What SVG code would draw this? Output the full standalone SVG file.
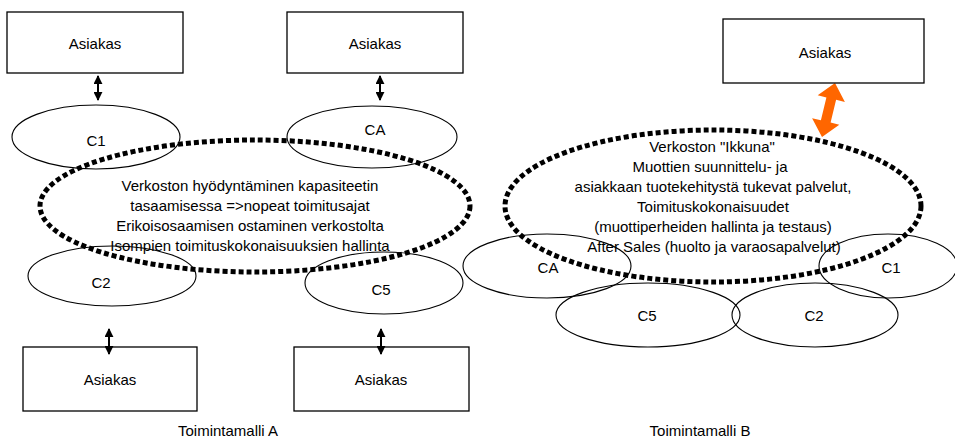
<svg xmlns="http://www.w3.org/2000/svg" width="955" height="442" viewBox="0 0 955 442">
  <style>
    text { font-family: "Liberation Sans", Arial, sans-serif; font-size: 15px; fill: #000; text-anchor: middle; }
    .box { fill: #fff; stroke: #000; stroke-width: 1.3; }
    .unit { fill: none; stroke: #000; stroke-width: 1.1; }
    .net { fill: none; stroke: #000; stroke-width: 5; stroke-dasharray: 5 3; }
    .link { stroke: #000; stroke-width: 2; marker-start: url(#tip); marker-end: url(#tip); }
  </style>
  <defs>
    <marker id="tip" viewBox="0 0 10 10" refX="9" refY="5" markerWidth="4.5" markerHeight="4.5" orient="auto-start-reverse">
      <path d="M0,0 L10,5 L0,10 z" fill="#000"/>
    </marker>
  </defs>

  <!-- Toimintamalli A -->
  <g id="a-asiakas-1"><rect class="box" x="7" y="12" width="176" height="61"/><text x="95" y="49">Asiakas</text></g>
  <g id="a-asiakas-2"><rect class="box" x="287" y="12" width="176" height="61"/><text x="375" y="49">Asiakas</text></g>
  <g id="a-asiakas-3"><rect class="box" x="23" y="347" width="174" height="64"/><text x="110" y="385">Asiakas</text></g>
  <g id="a-asiakas-4"><rect class="box" x="294" y="347" width="175" height="64"/><text x="381" y="385">Asiakas</text></g>

  <g id="a-c1"><ellipse class="unit" cx="96" cy="137" rx="84" ry="32"/><text x="96" y="146">C1</text></g>
  <g id="a-ca"><ellipse class="unit" cx="372" cy="137" rx="85" ry="31"/><text x="375" y="135">CA</text></g>
  <g id="a-c2"><ellipse class="unit" cx="112" cy="276" rx="84" ry="30"/><text x="101" y="288">C2</text></g>
  <g id="a-c5"><ellipse class="unit" cx="384" cy="283" rx="79" ry="31"/><text x="381" y="295">C5</text></g>

  <g id="a-verkosto">
    <ellipse class="net" cx="255" cy="206" rx="215" ry="66"/>
    <text x="250" y="191">Verkoston hyödyntäminen kapasiteetin</text>
    <text x="250" y="211">tasaamisessa =&gt;nopeat toimitusajat</text>
    <text x="250" y="231">Erikoisosaamisen ostaminen verkostolta</text>
    <text x="250" y="251">Isompien toimituskokonaisuuksien hallinta</text>
  </g>

  <g id="connectors">
    <line class="link" x1="98" y1="76" x2="98" y2="100"/>
    <line class="link" x1="380" y1="76" x2="380" y2="100"/>
    <line class="link" x1="109" y1="329" x2="109" y2="354"/>
    <line class="link" x1="381" y1="329" x2="381" y2="354"/>
    <polygon fill="#ff6600" points="835,83 844.9,101.9 836.1,99.7 830.6,122.6 839.3,124.8 822,137 812.1,118.2 820.9,120.3 826.4,97.4 817.7,95.3"/>
  </g>

  <!-- Toimintamalli B -->
  <g id="b-asiakas"><rect class="box" x="723" y="19" width="201" height="64"/><text x="825" y="58">Asiakas</text></g>

  <g id="b-ca"><ellipse class="unit" cx="547" cy="266" rx="84" ry="32"/><text x="548" y="273">CA</text></g>
  <g id="b-c1"><ellipse class="unit" cx="888" cy="266" rx="69" ry="32"/><text x="891" y="273">C1</text></g>
  <g id="b-c5"><ellipse class="unit" cx="648" cy="315" rx="92" ry="32"/><text x="647" y="321">C5</text></g>
  <g id="b-c2"><ellipse class="unit" cx="815" cy="315" rx="83" ry="32"/><text x="814" y="321">C2</text></g>

  <g id="b-ikkuna">
    <ellipse class="net" cx="713" cy="206" rx="208" ry="76"/>
    <text x="712" y="152">Verkoston "Ikkuna"</text>
    <text x="710" y="172">Muottien suunnittelu- ja</text>
    <text x="713" y="192">asiakkaan tuotekehitystä tukevat palvelut,</text>
    <text x="713" y="212">Toimituskokonaisuudet</text>
    <text x="713" y="232">(muottiperheiden hallinta ja testaus)</text>
    <text x="714" y="252">After Sales (huolto ja varaosapalvelut)</text>
  </g>

  <g id="captions">
    <text x="228" y="436">Toimintamalli A</text>
    <text x="700" y="436">Toimintamalli B</text>
  </g>
</svg>
